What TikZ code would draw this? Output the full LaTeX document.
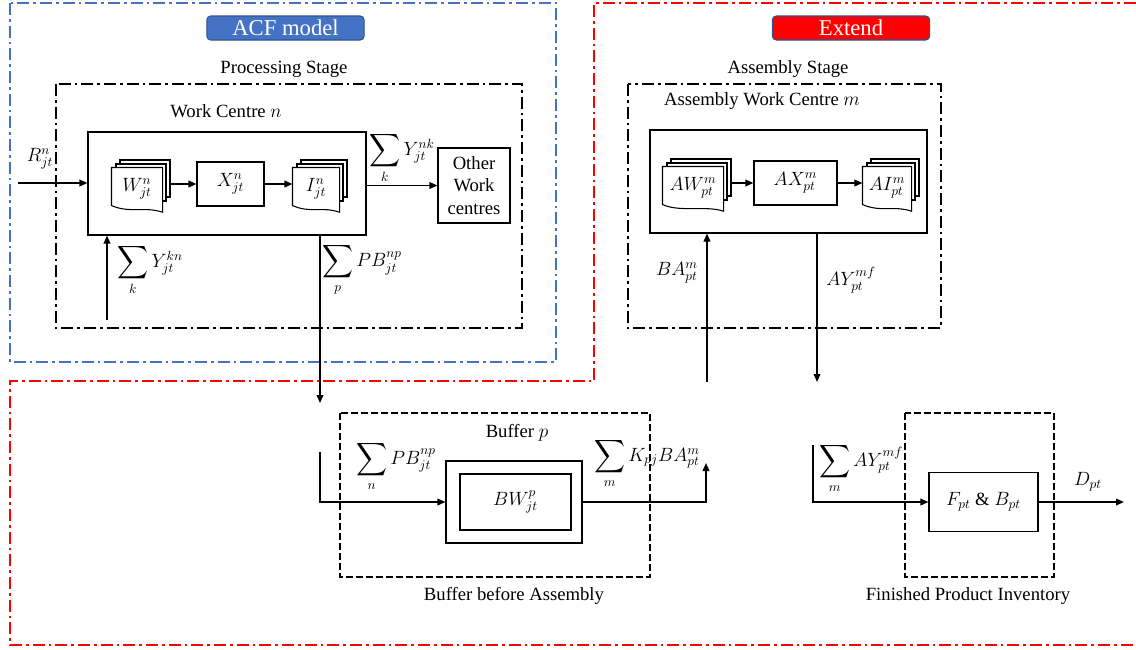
\documentclass[tikz,border=0pt]{standalone}
\usepackage{fontspec}
\setmainfont{Liberation Serif}
\usepackage{graphicx}
\usepackage{amsmath}
\usetikzlibrary{arrows.meta, positioning, calc}

\definecolor{acfblue}{RGB}{68,114,196}
\definecolor{tagedge}{RGB}{47,82,143}
\definecolor{extred}{RGB}{255,0,0}

% large summation sign with its index set underneath
\newcommand{\bigsum}[1]{\mathop{\vcenter{\hbox{\scalebox{1.12}[1.2]{$\displaystyle\sum$}}}}\limits_{#1}}

% stack of three pages, the front one with a wavy bottom edge
% #1 name, #2 centre of front page, #3 width, #4 label
\newcommand{\docstack}[4]{%
  \node[page, minimum width=#3, xshift=6pt, yshift=6pt] (#1-3) at #2 {};
  \node[page, minimum width=#3, xshift=3pt, yshift=3pt] (#1-2) at #2 {};
  \node[page, draw=none, fill=none, minimum width=#3] (#1) at #2 {};
  \draw[line width=0.8pt, fill=white] (#1.south west) -- (#1.north west) -- (#1.north east) -- ([yshift=5pt]#1.south east) .. controls +(-18,-6) and +(18,8) .. (#1.south west) -- cycle;
  \node[txt, inner sep=0pt] (#1-txt) at ([yshift=1.5pt]#1.center) {#4};
}

\tikzset{
  txt/.style={font=\fontsize{14}{17}\selectfont, inner sep=0.75pt},
  tag/.style={draw=tagedge, line width=0.8pt, rounded corners=3pt, text=white,
    font=\fontsize{17}{20}\selectfont, minimum width=118pt, minimum height=18pt, inner sep=0pt},
  modelframe/.style={line width=1.8pt, dash pattern=on 9pt off 3pt on 2pt off 3pt},
  stagebox/.style={line width=2pt, dash pattern=on 9pt off 3pt on 2pt off 3pt},
  invbox/.style={line width=2pt, dash pattern=on 5pt off 2.5pt},
  box/.style={draw, line width=0.8pt, fill=white, inner sep=0pt, font=\fontsize{14}{17}\selectfont},
  page/.style={draw, line width=0.8pt, fill=white, inner sep=0pt, minimum height=27.75pt},
  flow/.style={line width=1.1pt, -{Triangle[length=6pt,width=5pt]}},
}

\begin{document}
\begin{tikzpicture}[x=0.75pt,y=0.75pt,yscale=-1,xscale=1]
\useasboundingbox (0,0) rectangle (1136,650);

%Frames: ACF model and extension
\draw[modelframe, acfblue] (10,3) rectangle (556,362);
\draw[modelframe, extred] (1136,3) -- (594,3) -- (594,381) -- (10,381) -- (10,645) -- (1136,645);
\node[tag, fill=acfblue] (acf) at (285.5,28) {ACF model};
\node[tag, fill=extred] (ext) at (851,28) {Extend};

%Processing stage
\node[txt] (pstage) at (284,69) {Processing Stage};
\draw[stagebox] (56,84) rectangle (522,328);
\node[txt] (wclabel) at (226,111) {Work Centre $n$};
\node[box, minimum width=208.5pt, minimum height=77.25pt] (wc) at (227,183.5) {};
\docstack{W}{(137,186.5)}{37.5pt}{$W^{n}_{jt}$}
\node[box, minimum width=50.25pt, minimum height=33pt] (X) at (230.5,184) {$X^{n}_{jt}$};
\docstack{I}{(316,186.5)}{34.5pt}{$I^{n}_{jt}$}
\node[box, minimum width=54pt, minimum height=56.25pt, align=center] (other) at (474,185.5) {Other\\Work\\centres};

\draw[flow] (W-3.east |- X.west) -- (X.west);
\draw[flow] (X.east) -- (X.east -| I.west);

% Text Node
\coordinate (rin) at (18,183);
\draw[flow] (rin) -- (wc.west |- rin);
\node[txt] (rlabel) at (40,159) {$R^{n}_{jt}$};
\draw[flow] (wc.east |- other) -- (other.west);
\node[txt] (ynk) at (402,158) {$\bigsum{k} Y^{nk}_{jt}$};
\coordinate (ykn) at (107,320);
\draw[flow] (ykn) -- (ykn |- wc.south);
\node[txt] (ykn-lbl) at (150,270) {$\bigsum{k} Y^{kn}_{jt}$};
\coordinate (pbout) at (320,403);
\draw[flow] (wc.south -| pbout) -- (pbout);
\node[txt] (pbnp) at (362,270) {$\bigsum{p} PB^{np}_{jt}$};

%Assembly stage
\node[txt] (astage) at (788,69) {Assembly Stage};
\draw[stagebox] (628,84) rectangle (941,328);
\node[txt] (awclabel) at (762,101) {Assembly Work Centre $m$};
\node[box, minimum width=207.75pt, minimum height=77.25pt] (awc) at (788.5,181.5) {};
\docstack{AW}{(693,185.5)}{45pt}{$AW^{m}_{pt}$}
\node[box, minimum width=62.25pt, minimum height=33pt] (AX) at (795.5,183) {$AX^{m}_{pt}$};
\docstack{AI}{(887,185.5)}{36pt}{$AI^{m}_{pt}$}

\draw[flow] (AW-3.east |- AX.west) -- (AX.west);
\draw[flow] (AX.east) -- (AX.east -| AI.west);

\coordinate (bain) at (707,382);
\draw[flow] (bain) -- (bain |- awc.south);
\node[txt] (ba) at (677,273) {$BA^{m}_{pt}$};
\coordinate (ayout) at (817,382);
\draw[flow] (awc.south -| ayout) -- (ayout);
\node[txt] (ay) at (851,280) {$AY^{mf}_{pt}$};

%Buffer before assembly
\draw[invbox] (340,413) rectangle (650,577);
\node[txt] (buflabel) at (517,433) {Buffer $p$};
\node[box, minimum width=102pt, minimum height=61.5pt] (bwo) at (514,502) {};
\node[box, minimum width=83.25pt, minimum height=42pt] (bw) at (515.5,502) {$BW^{p}_{jt}$};
\coordinate (pbin) at (320,452);
\draw[flow] (pbin) |- (bwo.west);
\node[txt] (pbn) at (396,466) {$\bigsum{n} PB^{np}_{jt}$};
\coordinate (kba) at (706,463);
\draw[flow] (bwo.east) -| (kba);
\node[txt] (kbalbl) at (647,463) {$\bigsum{m} K_{pj}BA^{m}_{pt}$};
\node[txt] (bufname) at (514,596) {Buffer before Assembly};

%Finished product inventory
\draw[invbox] (905,413) rectangle (1054,577);
\node[box, minimum width=81.75pt, minimum height=44.25pt] (fb) at (983.5,502) {$F_{pt}\ \&\ B_{pt}$};
\coordinate (ayin) at (813,445);
\draw[flow] (ayin) |- (fb.west);
\node[txt] (aym) at (861,468) {$\bigsum{m} AY^{mf}_{pt}$};
\coordinate (dout) at (1124,502);
\draw[flow] (fb.east) -- (dout);
\node[txt] (dpt) at (1088,482) {$D_{pt}$};
\node[txt] (fpname) at (968,596) {Finished Product Inventory};

\end{tikzpicture}
\end{document}
